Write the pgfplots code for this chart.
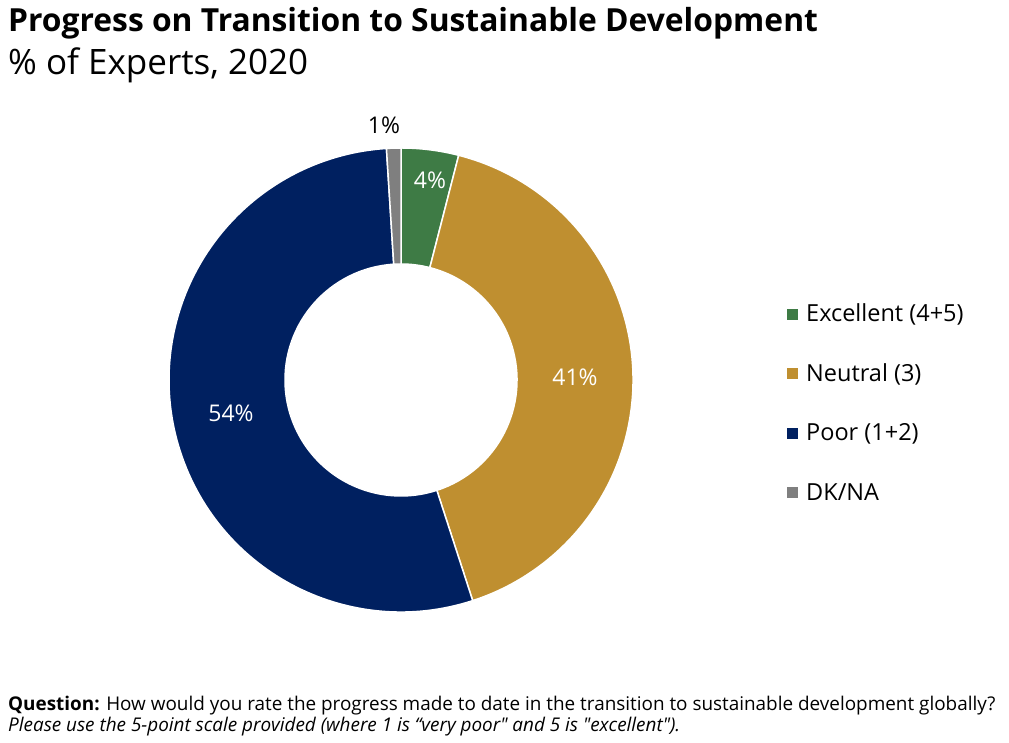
\documentclass[border=0pt]{standalone}
\usepackage{pgfplots}
\pgfplotsset{compat=1.18}
\usepackage{pgfplotstable}
\usepackage{fontspec}
\setmainfont{Open Sans}[Ligatures=TeXOff]

\definecolor{cExc}{HTML}{3E7B45}
\definecolor{cNeu}{HTML}{BF8F30}
\definecolor{cPoor}{HTML}{002060}
\definecolor{cDK}{HTML}{7F7F7F}

\pgfplotstableread{
name value color
Excellent 4 cExc
Neutral 41 cNeu
Poor 54 cPoor
DKNA 1 cDK
}\datatable

\newcommand\slice[3]{%
  \pgfmathsetmacro\aS{90-3.6*#1}%
  \pgfmathsetmacro\aE{90-3.6*(#1+#2)}%
  \edef\tmp{\noexpand\fill[#3, draw=white, line width=1.5pt]
    (axis cs:401,363) ++(\aS:232pt) arc[start angle=\aS, end angle=\aE, radius=232pt]
    -- ([shift={(\aE:116pt)}]axis cs:401,363) arc[start angle=\aE, end angle=\aS, radius=116pt] -- cycle;}%
  \tmp
}

\begin{document}
\begin{tikzpicture}
\begin{axis}[width=1009pt, height=743pt, scale only axis,
  xmin=0, xmax=1009, ymin=0, ymax=743, hide axis, clip=false]
\path (axis cs:0,0) rectangle (axis cs:1009,743);
\def\cum{0}
\pgfplotsforeachungrouped \i in {0,...,3}{%
  \pgfplotstablegetelem{\i}{value}\of\datatable \let\v\pgfplotsretval
  \pgfplotstablegetelem{\i}{color}\of\datatable \let\c\pgfplotsretval
  \slice{\cum}{\v}{\c}%
  \pgfmathsetmacro\cum{\cum+\v}%
  \xdef\cum{\cum}%
}
% data labels
\node[text=white, font=\fontsize{23}{27}\selectfont] at (axis cs:430,563) {4\%};
\node[text=white, font=\fontsize{23}{27}\selectfont] at (axis cs:575,366) {41\%};
\node[text=white, font=\fontsize{23}{27}\selectfont] at (axis cs:231,330) {54\%};
\node[text=black, font=\fontsize{23}{27}\selectfont] at (axis cs:384,618) {1\%};
% legend
\fill[cExc] (axis cs:786.5,423) rectangle (axis cs:797.5,434);
\fill[cNeu] (axis cs:786.5,363.5) rectangle (axis cs:797.5,374.5);
\fill[cPoor] (axis cs:786.5,304) rectangle (axis cs:797.5,315);
\fill[cDK] (axis cs:786.5,245) rectangle (axis cs:797.5,256);
\node[anchor=west, inner sep=0pt, font=\fontsize{23.5}{27}\selectfont] at (axis cs:806,428.5) {Excellent (4+5)};
\node[anchor=west, inner sep=0pt, font=\fontsize{23.5}{27}\selectfont] at (axis cs:806,369) {Neutral (3)};
\node[anchor=west, inner sep=0pt, font=\fontsize{23.5}{27}\selectfont] at (axis cs:806,309.5) {Poor (1+2)};
\node[anchor=west, inner sep=0pt, font=\fontsize{23.5}{27}\selectfont] at (axis cs:806,250.5) {DK/NA};
% titles
\node[anchor=base west, inner sep=0pt, font=\fontsize{31.8}{36}\selectfont\bfseries] at (axis cs:8,711.3) {Progress on Transition to Sustainable Development};
\node[anchor=base west, inner sep=0pt, font=\fontsize{35}{39}\selectfont] at (axis cs:8,668) {\% of Experts, 2020};
% footnote
\node[anchor=base west, inner sep=0pt, font=\fontsize{18.9}{22}\selectfont] at (axis cs:8,32.3) {\textbf{Question:} How would you rate the progress made to date in the transition to sustainable development globally?};
\node[anchor=base west, inner sep=0pt, font=\fontsize{18.9}{22}\selectfont\itshape] at (axis cs:8,11.3) {Please use the 5-point scale provided (where 1 is “very poor" and 5 is "excellent").};
\end{axis}
\end{tikzpicture}
\end{document}
